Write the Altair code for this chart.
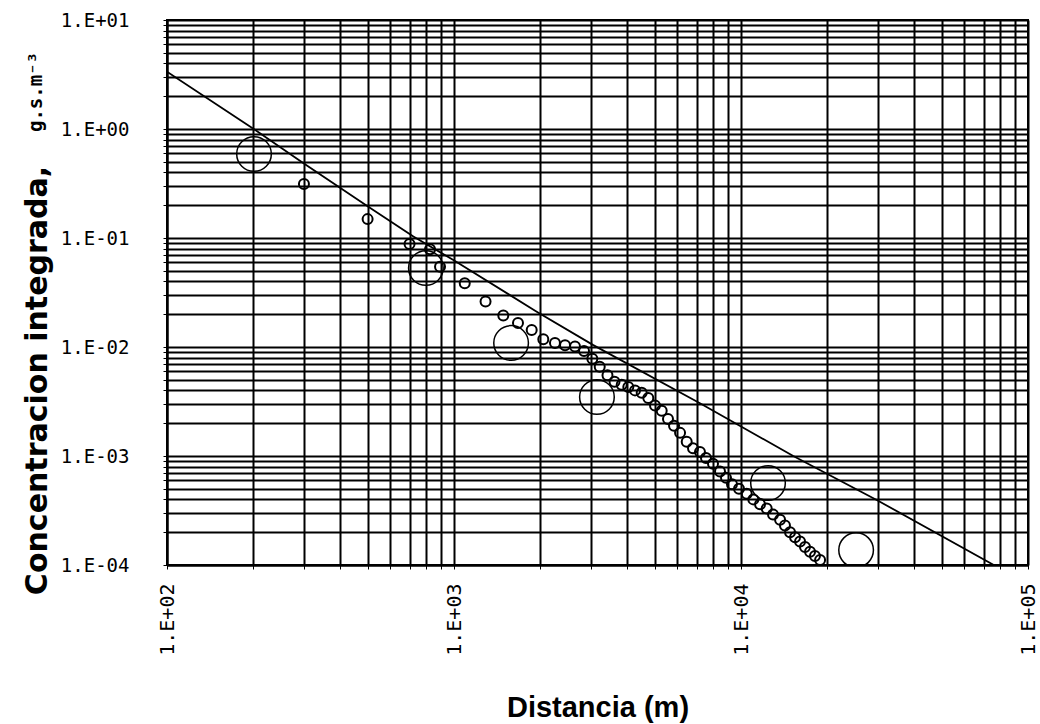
import altair as alt
import pandas as pd

# ---- data ----
# small open circles (measured integrated concentration)
obs_x = [300, 500, 700, 825, 894, 1090, 1288, 1485, 1671, 1865, 2047, 2248, 2437, 2640, 2838,
         3034, 3219, 3426, 3625, 3840, 4049, 4273, 4508, 4753, 5016, 5293, 5567, 5843, 6133, 6469,
         6804, 7195, 7551, 7988, 8450, 8866, 9303, 9840, 10470, 11040, 11650, 12290, 12930, 13680,
         14230, 14820, 15430, 16060, 16710, 17400, 18100, 18860]
obs_y = [0.313, 0.149, 0.088, 0.079, 0.0545, 0.0384, 0.0262, 0.0195, 0.0166, 0.0143, 0.0118, 0.0109,
         0.0104, 0.0101, 0.0092, 0.0078, 0.0066, 0.0055, 0.0048, 0.0045, 0.0043, 0.0040, 0.0038,
         0.0034, 0.0029, 0.0026, 0.00219, 0.00189, 0.00163, 0.00135, 0.00118, 0.00109, 0.00096,
         0.00085, 0.00072, 0.00063, 0.00055, 0.00050, 0.00045, 0.00040, 0.00036, 0.00033, 0.00029,
         0.00026, 0.00023, 0.00020, 0.00018, 0.000164, 0.000146, 0.000132, 0.000121, 0.000111]

# large open circles
big_x = [201, 798, 1581, 3148, 12420, 25180]
big_y = [0.59, 0.0531, 0.0109, 0.00348, 0.000565, 0.000137]

# reference line
line_x = [100, 203, 299, 503, 722, 995, 1942, 3058, 7195, 15210, 29710, 76000]
line_y = [3.36, 0.979, 0.485, 0.194, 0.103, 0.0628, 0.0211, 0.0104, 0.00305, 0.00100, 0.000395, 0.0001]

# axis ticks / labels
x_decades = [100, 1000, 10000, 100000]
x_labels = ["1.E+02", "1.E+03", "1.E+04", "1.E+05"]
y_decades = [0.0001, 0.001, 0.01, 0.1, 1, 10]
y_labels = ["1.E-04", "1.E-03", "1.E-02", "1.E-01", "1.E+00", "1.E+01"]

x_title = "Distancia (m)"
y_title = "Concentracion integrada,"
y_units = "g.s.m\u207b\u00b3"


def grid_values(decades):
    vals = []
    for d in decades[:-1]:
        for m in range(1, 10):
            vals.append(d * m)
    vals.append(decades[-1])
    return vals


def label_expr(decades, labels):
    expr = "''"
    for v, l in reversed(list(zip(decades, labels))):
        expr = f"abs(datum.value / {v} - 1) < 1e-6 ? '{l}' : ({expr})"
    return expr


obs_df = pd.DataFrame({"x": obs_x, "y": obs_y})
big_df = pd.DataFrame({"x": big_x, "y": big_y})
line_df = pd.DataFrame({"x": line_x, "y": line_y})

xscale = alt.Scale(type="log", domain=[x_decades[0], x_decades[-1]], nice=False)
yscale = alt.Scale(type="log", domain=[y_decades[0], y_decades[-1]], nice=False)

xaxis = alt.Axis(
    values=grid_values(x_decades),
    labelExpr=label_expr(x_decades, x_labels),
    labelAngle=270, labelAlign="right", labelBaseline="middle",
    labelFont="DejaVu Sans Mono", labelFontSize=20, labelColor="black",
    labelPadding=14, labelOverlap=False, labelFlush=False,
    grid=True, gridColor="black", gridWidth=2, gridOpacity=1,
    domainColor="black", domainWidth=2, tickColor="black", tickSize=4,
    title=x_title, titleFont="Liberation Sans", titleFontWeight="bold", titleFontSize=29,
    titleColor="black", titleBaseline="middle", titleY=142,
)
yaxis = alt.Axis(
    values=grid_values(y_decades),
    labelExpr=label_expr(y_decades, y_labels),
    labelFont="DejaVu Sans Mono", labelFontSize=19, labelColor="black",
    labelPadding=34, labelOverlap=False, labelFlush=False, labelBaseline="middle",
    grid=True, gridColor="black", gridWidth=2, gridOpacity=1,
    domainColor="black", domainWidth=2, tickColor="black", tickSize=4,
    title=y_title, titleFont="DejaVu Sans", titleFontWeight="bold", titleFontSize=30,
    titleColor="black", titleAngle=270, titleAlign="center", titleBaseline="middle",
    titleX=-130, titleY=360,
)

line = alt.Chart(line_df).mark_line(color="black", strokeWidth=1.8, clip=True).encode(
    x=alt.X("x:Q", scale=xscale, axis=xaxis),
    y=alt.Y("y:Q", scale=yscale, axis=yaxis),
)
small = alt.Chart(obs_df).mark_point(
    shape="circle", filled=False, color="black", size=100, strokeWidth=2, opacity=1, clip=True
).encode(x=alt.X("x:Q", scale=xscale), y=alt.Y("y:Q", scale=yscale))
big = alt.Chart(big_df).mark_point(
    shape="circle", filled=False, color="black", size=1200, strokeWidth=1.5, opacity=1, clip=True
).encode(x=alt.X("x:Q", scale=xscale), y=alt.Y("y:Q", scale=yscale))
units = alt.Chart(pd.DataFrame({"t": [y_units]})).mark_text(
    angle=270, font="DejaVu Sans Mono", fontSize=19, fontWeight="bold", color="black",
    align="center", baseline="middle"
).encode(text="t:N", x=alt.value(-131), y=alt.value(72))

chart = alt.layer(line, small, big, units).properties(
    width=861, height=545,
    autosize=alt.AutoSizeParams(type="none"),
    padding={"left": 167, "top": 20, "right": 12, "bottom": 159},
    background="white",
).configure_view(stroke="black", strokeWidth=2)

chart.save("out.html", embed_options={"renderer": "svg", "actions": False})
